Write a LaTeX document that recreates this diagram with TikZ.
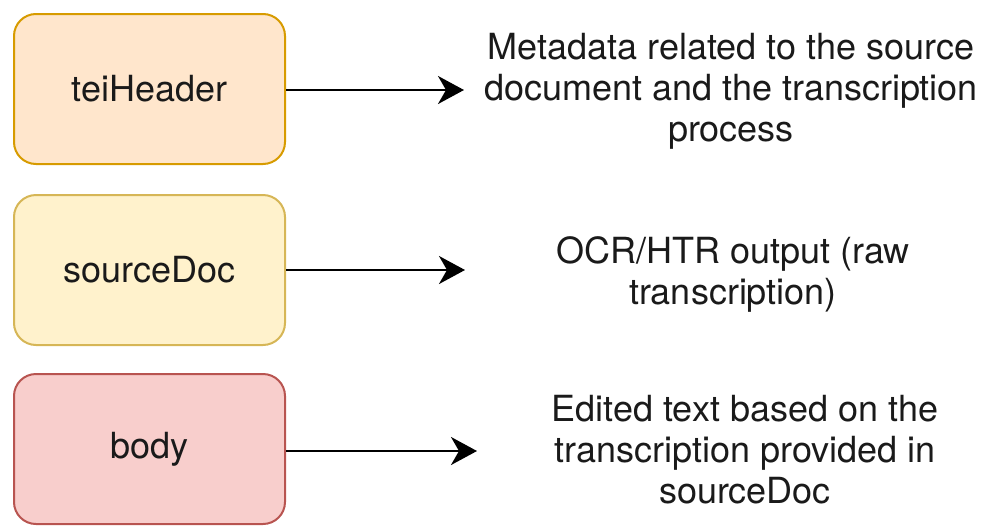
\documentclass[tikz,border=0pt]{standalone}
\usepackage{fontspec}
\setmainfont{TeX Gyre Heros}
\usetikzlibrary{arrows.meta}
\definecolor{orfill}{HTML}{FFE6CC}
\definecolor{ordraw}{HTML}{D79B00}
\definecolor{yefill}{HTML}{FFF2CC}
\definecolor{yedraw}{HTML}{D6B656}
\definecolor{refill}{HTML}{F8CECC}
\definecolor{redraw}{HTML}{B85450}
\definecolor{txt}{HTML}{1A1A1A}
\tikzset{
  box/.style={rounded corners=22pt, line width=2pt, minimum width=271pt, minimum height=150pt, inner sep=0pt, text=txt, font=\fontsize{36}{41}\selectfont},
  desc/.style={align=center, inner sep=0pt, text=txt, font=\fontsize{36}{41}\selectfont},
  conn/.style={line width=2.2pt, -{Stealth[length=26pt, width=28pt, inset=8pt]}}
}
\begin{document}
\begin{tikzpicture}[x=1pt, y=-1pt]
\useasboundingbox (0,0) rectangle (985,525);
\node[box, draw=ordraw, fill=orfill] (tei) at (149.5,89) {teiHeader};
\node[box, draw=yedraw, fill=yefill] (src) at (149.5,270) {sourceDoc};
\node[box, draw=redraw, fill=refill] (bod) at (149.5,449) {body};
\node[desc] (d1) at (731,91) {Metadata related to the source\\document and the transcription\\process};
\node[desc] (d2) at (733,274) {OCR/HTR output (raw\\transcription)};
\node[desc] (d3) at (745,450) {Edited text based on the\\transcription provided in\\sourceDoc};
\coordinate (e1) at (464,90);
\coordinate (e2) at (465,270);
\coordinate (e3) at (477,451);
\draw[conn] (tei.east |- e1) -- (e1);
\draw[conn] (src.east |- e2) -- (e2);
\draw[conn] (bod.east |- e3) -- (e3);
\end{tikzpicture}
\end{document}
